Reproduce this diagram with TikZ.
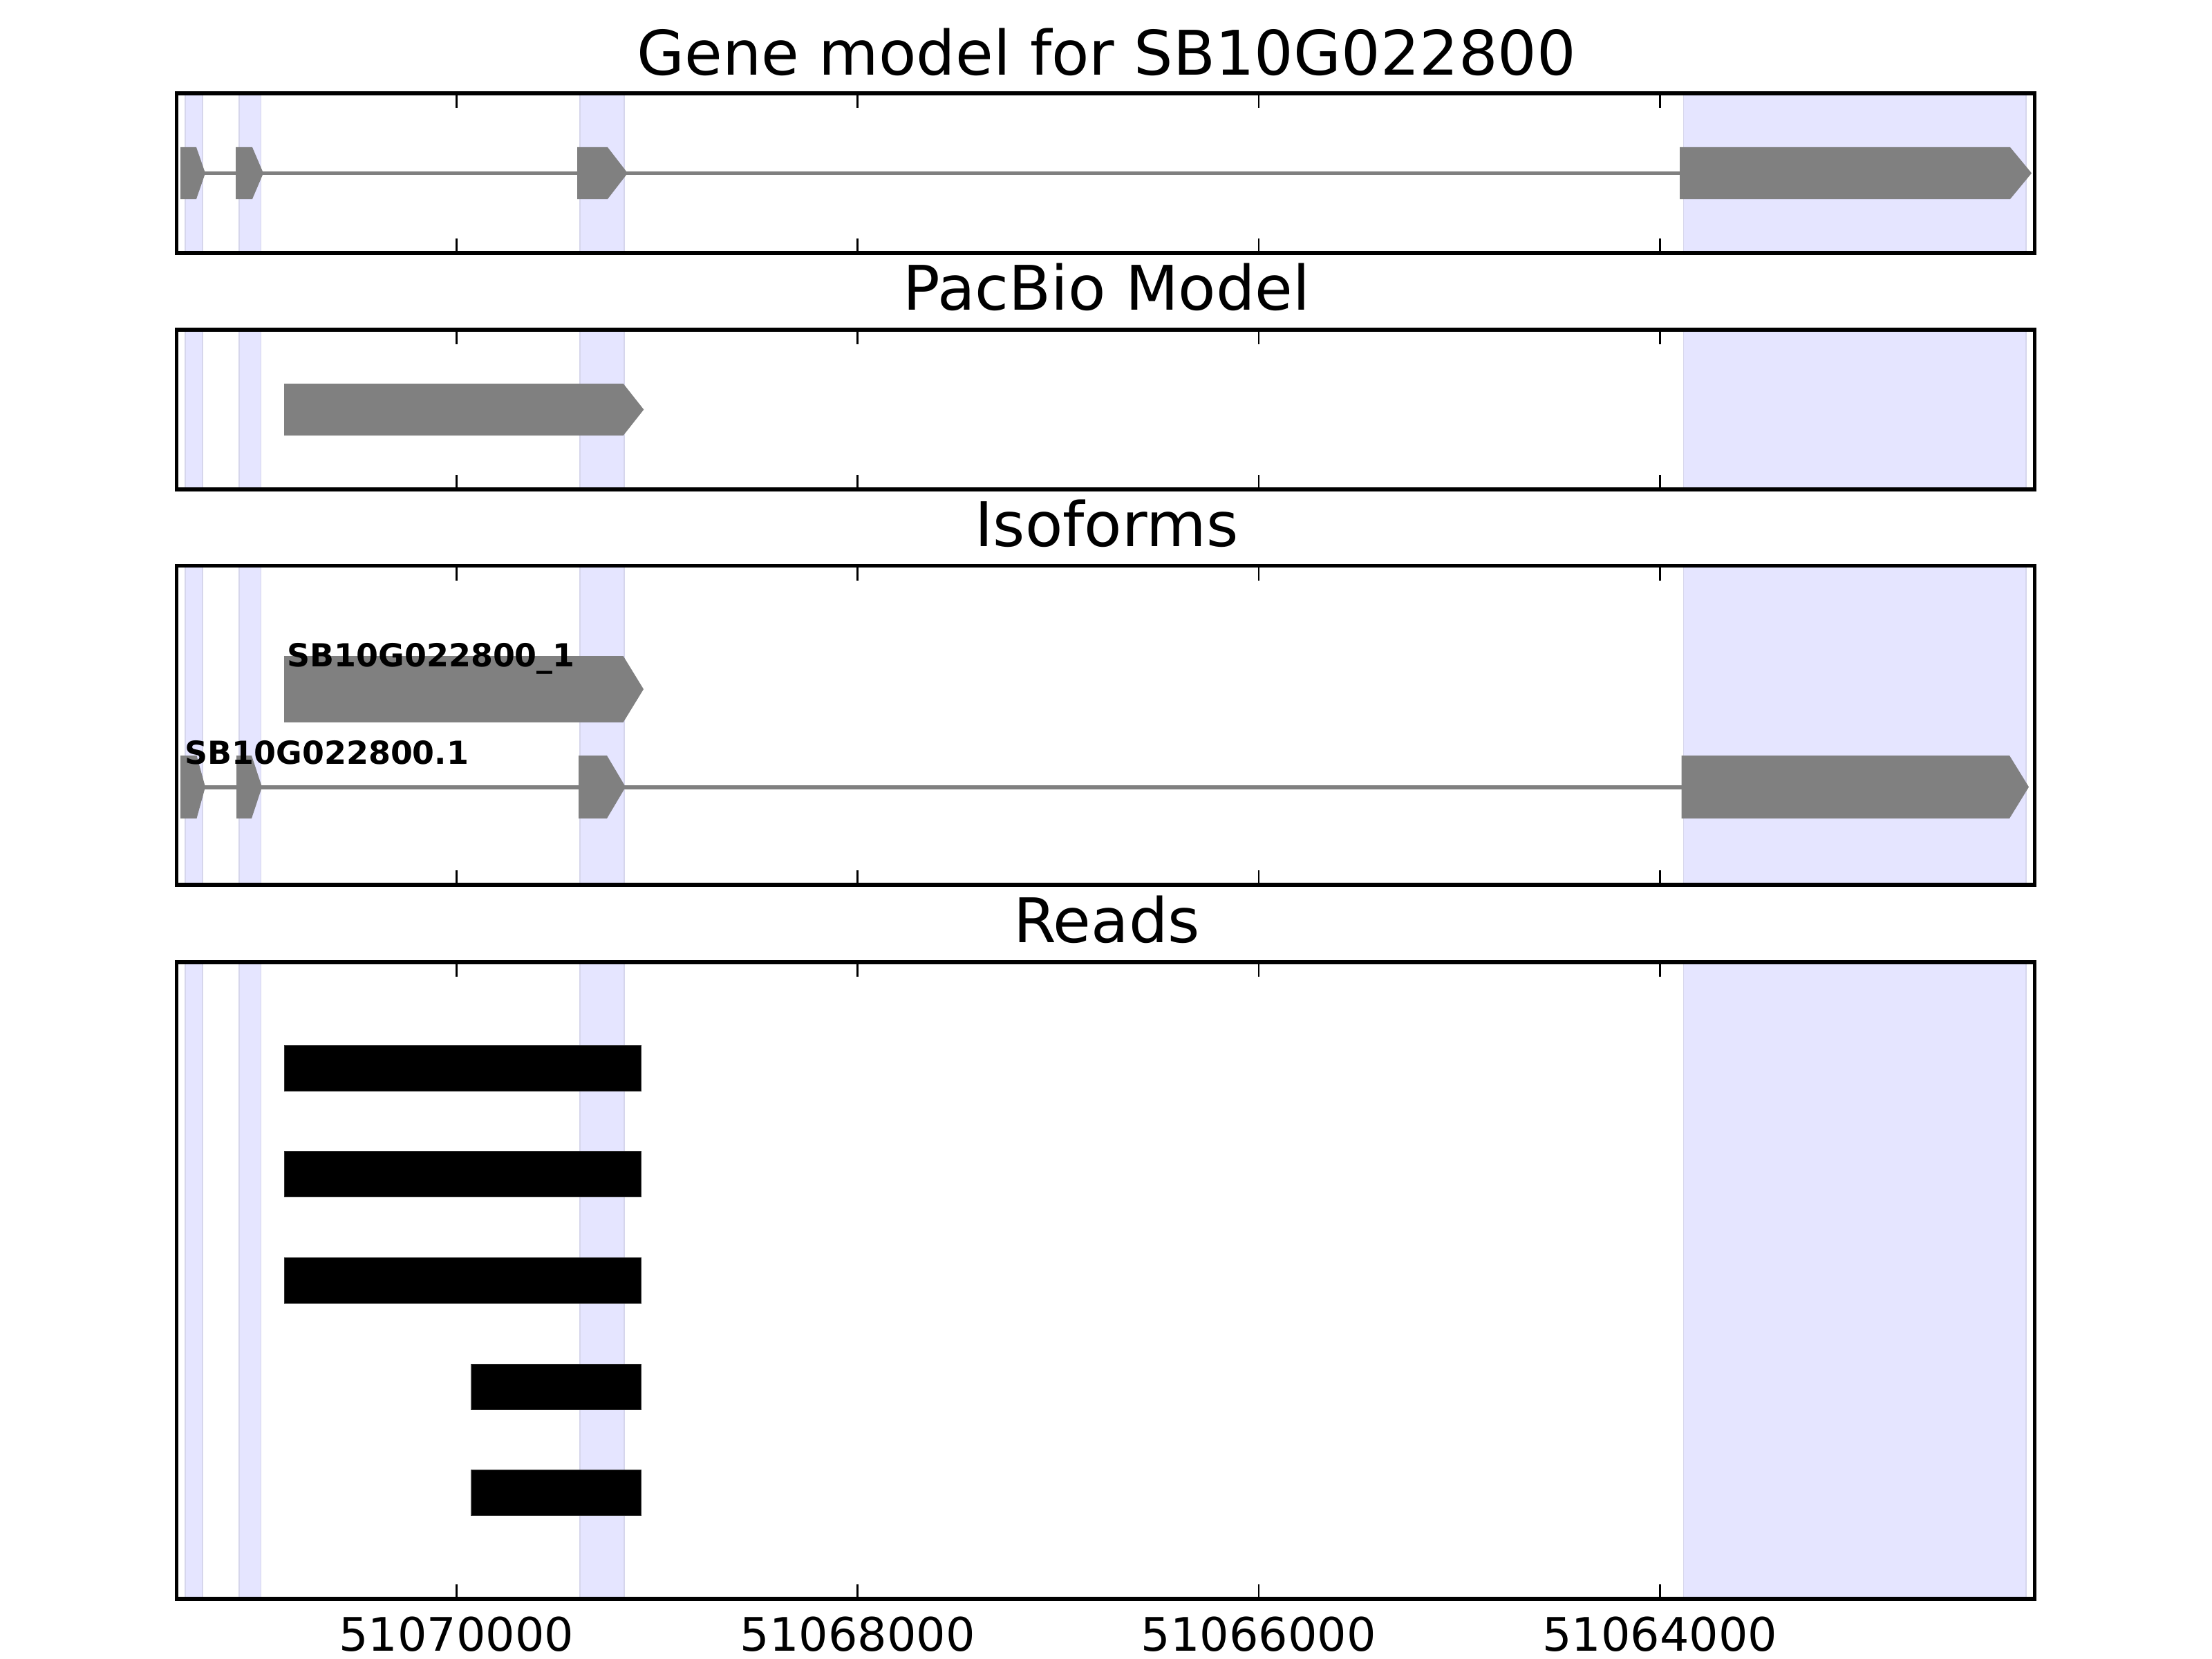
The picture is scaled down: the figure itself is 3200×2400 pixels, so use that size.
\documentclass[tikz,border=0pt]{standalone}
\usepackage{fontspec}
\setmainfont{DejaVu Sans}
\definecolor{bandfill}{RGB}{229,229,255}
\definecolor{bandedge}{RGB}{214,214,236}
\definecolor{exongray}{RGB}{128,128,128}
\newcommand\geneexon[5]{\fill[exonshape] (#1,#4) -- (#2,#4) -- (#3,{(#4+#5)/2}) -- (#2,#5) -- (#1,#5) -- cycle;}
\begin{document}
\begin{tikzpicture}[x=0.01cm,y=-0.01cm,
  frame/.style={draw=black,line width=1.55pt},
  tickmark/.style={draw=black,line width=0.8pt},
  bandbox/.style={fill=bandfill,draw=bandedge,line width=0.5pt},
  exonshape/.style={fill=exongray},
  intron/.style={draw=exongray,line width=1.7pt},
  readbar/.style={fill=black,draw=black!80,line width=0.3pt},
  paneltitle/.style={anchor=base,inner sep=0pt,font=\fontsize{25.3}{30}\selectfont},
  ticklabel/.style={anchor=base,inner sep=0pt,font=\fontsize{19}{23}\selectfont},
  isolabel/.style={anchor=base west,inner sep=0pt,font=\bfseries\fontsize{13.05}{15}\selectfont}]
\useasboundingbox (0,0) rectangle (3200,2400);
\fill[white] (0,0) rectangle (3200,2400);
% highlighted bands
\foreach \t/\b in {135/366, 477/708, 818.5/1280, 1392/2313}{
  \foreach \a/\c in {268/293, 346/377.5, 839/903, 2435.5/2931}{
    \path[bandbox] (\a,\t) rectangle (\c,\b);
  }
}
% panel 1: gene model
\draw[intron] (261,250.5) -- (2432,250.5);
\geneexon{261}{284}{297}{213}{288}
\geneexon{341}{365}{381}{213}{288}
\geneexon{835}{879}{908}{213}{288}
\geneexon{2430}{2908}{2939}{213}{288}
% panel 2: PacBio model
\geneexon{411}{901.7}{931.3}{555}{630}
% panel 3: isoforms
\geneexon{411}{901.6}{931}{949}{1045}
\draw[intron] (261,1138.5) -- (2434,1138.5);
\geneexon{261}{284.5}{297}{1093}{1184}
\geneexon{342}{364}{379}{1093}{1184}
\geneexon{837}{878}{905}{1093}{1184}
\geneexon{2432.5}{2907}{2935}{1093}{1184}
\node[isolabel] (lab1) at (415,964) {SB10G022800\_1};
\node[isolabel] (lab2) at (267,1105) {SB10G022800.1};
% panel 4: reads
\foreach \y in {1512.3, 1665.9, 1819.5}{
  \path[readbar] (411.5,\y) rectangle (927.5,\y+66);
}
\foreach \y in {1973.1, 2126.7}{
  \path[readbar] (682,\y) rectangle (927.5,\y+66);
}
% frames and ticks
\foreach \t/\b in {135/366, 477/708, 818.5/1280, 1392/2313}{
  \foreach \x in {660.5, 1240.7, 1820.9, 2401.1}{
    \draw[tickmark] (\x,\t) -- (\x,\t+21);
    \draw[tickmark] (\x,\b) -- (\x,\b-21);
  }
  \draw[frame] (255.5,\t) rectangle (2943.5,\b);
}
% titles
\node[paneltitle] (t1) at (1601,108.3) {Gene model for SB10G022800};
\node[paneltitle] (t2) at (1601,448.3) {PacBio Model};
\node[paneltitle] (t3) at (1601,790) {Isoforms};
\node[paneltitle] (t4) at (1601,1363.3) {Reads};
% tick labels
\node[ticklabel] (x1) at (660.5,2388) {51070000};
\node[ticklabel] (x2) at (1240.7,2388) {51068000};
\node[ticklabel] (x3) at (1820.9,2388) {51066000};
\node[ticklabel] (x4) at (2401.1,2388) {51064000};
\end{tikzpicture}
\end{document}
